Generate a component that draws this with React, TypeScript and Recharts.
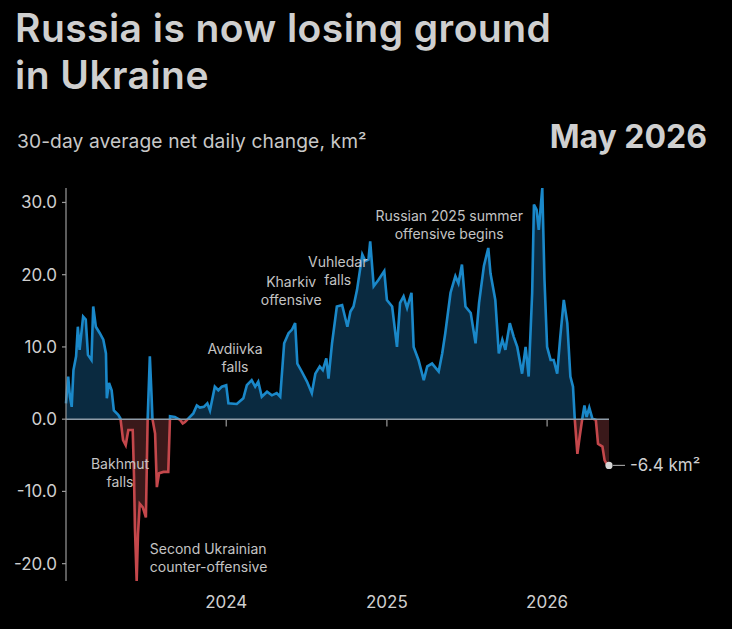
import React from 'react';
import { AreaChart, Area, XAxis, YAxis, ReferenceLine, ReferenceDot } from 'recharts';

const dates = [
  '2023-01-01','2023-01-06','2023-01-10','2023-01-14','2023-01-18','2023-01-24','2023-01-28','2023-02-01','2023-02-09','2023-02-15',
  '2023-02-20','2023-02-28','2023-03-04','2023-03-10','2023-03-19','2023-03-27','2023-04-02','2023-04-04','2023-04-09','2023-04-15',
  '2023-04-20','2023-04-30','2023-05-05','2023-05-11','2023-05-17','2023-05-23','2023-06-02','2023-06-05','2023-06-07','2023-06-11',
  '2023-06-14','2023-06-18','2023-06-25','2023-07-02','2023-07-06','2023-07-11','2023-07-15','2023-07-17','2023-07-23','2023-07-27',
  '2023-08-01','2023-08-11','2023-08-22','2023-08-26','2023-09-06','2023-09-18','2023-09-24','2023-09-29','2023-10-07','2023-10-18',
  '2023-10-26','2023-11-02','2023-11-11','2023-11-19','2023-11-25','2023-12-06','2023-12-14','2023-12-22','2024-01-01','2024-01-06',
  '2024-01-25','2024-02-09','2024-02-17','2024-02-28','2024-03-07','2024-03-14','2024-03-22','2024-04-03','2024-04-14','2024-04-25',
  '2024-05-03','2024-05-12','2024-05-22','2024-05-30','2024-06-06','2024-06-11','2024-06-21','2024-07-03','2024-07-14','2024-07-22',
  '2024-08-01','2024-08-08','2024-08-16','2024-08-21','2024-08-29','2024-09-09','2024-09-21','2024-10-03','2024-10-10','2024-10-17',
  '2024-10-25','2024-11-06','2024-11-13','2024-11-20','2024-11-24','2024-12-02','2024-12-13','2024-12-26','2025-01-01','2025-01-13',
  '2025-01-24','2025-01-31','2025-02-08','2025-02-16','2025-02-26','2025-03-03','2025-03-14','2025-03-26','2025-04-03','2025-04-14',
  '2025-04-29','2025-05-07','2025-05-14','2025-05-26','2025-06-06','2025-06-13','2025-06-21','2025-06-29','2025-07-11','2025-07-22',
  '2025-07-30','2025-08-10','2025-08-20','2025-08-25','2025-09-05','2025-09-13','2025-09-21','2025-09-28','2025-10-08','2025-10-17',
  '2025-10-25','2025-11-05','2025-11-13','2025-11-20','2025-11-28','2025-12-02','2025-12-08','2025-12-13','2025-12-21','2025-12-26',
  '2026-01-01','2026-01-09','2026-01-16','2026-01-24','2026-01-31','2026-02-08','2026-02-16','2026-02-23','2026-03-01','2026-03-05',
  '2026-03-11','2026-03-16','2026-03-22','2026-03-27','2026-04-01','2026-04-07','2026-04-14','2026-04-22','2026-04-27','2026-05-07',
  '2026-05-12','2026-05-17','2026-05-22',
];

const netChange = [
  2.2, 5.9, 3.1, 1.7, 6.8, 8.7, 12.8, 9.6, 14.2, 13.8,
  8.9, 8.2, 15.6, 12.8, 11.9, 11.0, 9.1, 2.9, 5.0, 4.0,
  1.2, 0.6, 0.1, -2.9, -3.6, -1.5, -1.5, -8.0, -15.0, -22.4,
  -15.9, -11.7, -12.2, -13.6, 0, 8.7, 3.1, 0, -2.0, -9.4,
  -7.5, -7.3, -7.3, 0.4, 0.3, -0.1, -0.6, -0.4, 0.1, 0.8,
  1.9, 1.6, 1.7, 2.2, 1.2, 4.5, 4.0, 4.5, 4.7, 2.2,
  2.1, 2.9, 4.7, 5.4, 4.5, 5.2, 3.1, 3.8, 3.3, 3.6,
  3.1, 10.5, 11.9, 12.4, 13.3, 7.7, 6.6, 5.2, 3.6, 6.3,
  7.3, 6.8, 8.4, 5.6, 10.5, 15.6, 15.8, 12.8, 14.9, 15.6,
  17.9, 22.8, 21.9, 22.1, 24.6, 18.4, 19.3, 20.5, 16.5, 15.6,
  10.0, 16.1, 17.0, 15.4, 17.5, 10.0, 8.2, 5.4, 7.3, 7.7,
  6.6, 9.1, 11.9, 17.5, 19.8, 18.8, 21.4, 15.6, 14.7, 10.5,
  16.1, 21.2, 23.7, 20.2, 16.5, 9.1, 11.0, 9.6, 13.3, 11.4,
  10.0, 6.3, 10.0, 5.9, 17.5, 29.7, 29.0, 26.2, 32.0, 19.3,
  10.0, 8.2, 8.2, 6.3, 11.4, 16.5, 13.3, 5.9, 4.5, 0,
  -4.8, -2.5, 0, 1.9, 0.3, 1.6, 0.1, -0.1, -3.4, -3.8,
  -5.7, -6.2, -6.4,
];

const yTicks = [-20, -10, 0, 10, 20, 30];
const yearTicks = ['2024-01-01', '2025-01-01', '2026-01-01'];

type Note = { date: string; value: number; lines: string[]; anchor: 'middle' | 'start' };
const notes: Note[] = [
  { date: '2023-05-04', value: -6.85, lines: ['Bakhmut', 'falls'], anchor: 'middle' },
  { date: '2023-07-11', value: -18.6, lines: ['Second Ukrainian', 'counter-offensive'], anchor: 'start' },
  { date: '2024-01-21', value: 9.0, lines: ['Avdiivka', 'falls'], anchor: 'middle' },
  { date: '2024-05-28', value: 18.3, lines: ['Kharkiv', 'offensive'], anchor: 'middle' },
  { date: '2024-09-11', value: 21.1, lines: ['Vuhledar', 'falls'], anchor: 'middle' },
  { date: '2025-05-23', value: 27.5, lines: ['Russian 2025 summer', 'offensive begins'], anchor: 'middle' },
];

const data = dates.map((d, i) => ({ t: Date.parse(d), v: netChange[i] }));
const maxV = Math.max(...netChange);
const minV = Math.min(...netChange);
const splitOffset = maxV / (maxV - minV);
const lastDate = dates[dates.length - 1];
const lastValue = netChange[netChange.length - 1];

const TEXT = '#cfcfcf';
const FONT = 'Inter, "Noto Sans", sans-serif';

function NoteLabel(props: any) {
  const { viewBox, lines, anchor } = props;
  const x = viewBox.x + (viewBox.width || 0) / 2;
  const y = viewBox.y + (viewBox.height || 0) / 2;
  return (
    <text x={x} y={y} textAnchor={anchor} fill="#c4c4c4" fontSize={14} fontFamily={FONT}>
      {lines.map((l: string, i: number) => (
        <tspan key={i} x={x} dy={i === 0 ? 0 : 18.3}>{l}</tspan>
      ))}
    </text>
  );
}

function EndLabel(props: any) {
  const { viewBox } = props;
  const cx = viewBox.x + (viewBox.width || 0) / 2;
  const cy = viewBox.y + (viewBox.height || 0) / 2;
  return (
    <g>
      <line x1={cx + 4} y1={cy} x2={cx + 16} y2={cy} stroke="#9a9a9a" strokeWidth={1.2} />
      <text x={cx + 21} y={cy + 6} fill={TEXT} fontSize={17} fontFamily={FONT}>-6.4 km²</text>
    </g>
  );
}

export default function App() {
  return (
    <div style={{ position: 'relative', width: 732, height: 629, background: '#000', overflow: 'hidden', fontFamily: FONT }}>
      <style>{`body{margin:0;background:#000}`}</style>
      <div style={{ position: 'absolute', left: 15, top: 4, fontSize: 39, lineHeight: '47px', fontWeight: 600, letterSpacing: 0.45, color: TEXT, whiteSpace: 'nowrap' }}>
        Russia is now losing ground<br />in Ukraine
      </div>
      <div style={{ position: 'absolute', left: 17, top: 132, fontSize: 19.2, lineHeight: 1, color: '#c8c8c8', letterSpacing: 0.1, whiteSpace: 'nowrap' }}>
        30-day average net daily change, km²
      </div>
      <div style={{ position: 'absolute', right: 25, top: 120.7, fontSize: 32, lineHeight: 1, fontWeight: 700, color: TEXT, whiteSpace: 'nowrap' }}>
        May 2026
      </div>
      <div style={{ position: 'absolute', left: 0, top: 0 }}>
        <AreaChart width={732} height={629} data={data} margin={{ top: 188, right: 123, bottom: 18, left: 0 }}>
          <defs>
            <linearGradient id="fillSplit" x1="0" y1="0" x2="0" y2="1">
              <stop offset={splitOffset} stopColor="#0a2a40" stopOpacity={1} />
              <stop offset={splitOffset} stopColor="#3a191a" stopOpacity={1} />
            </linearGradient>
            <linearGradient id="strokeSplit" x1="0" y1="0" x2="0" y2="1">
              <stop offset={splitOffset} stopColor="#1a88c9" stopOpacity={1} />
              <stop offset={splitOffset} stopColor="#c4474b" stopOpacity={1} />
            </linearGradient>
          </defs>
          <XAxis
            dataKey="t"
            type="number"
            domain={['dataMin', 'dataMax']}
            ticks={yearTicks.map((d) => Date.parse(d))}
            tickFormatter={(v: number) => String(new Date(v).getUTCFullYear())}
            axisLine={false}
            tickLine={false}
            tickMargin={9}
            height={30}
            tick={{ fill: TEXT, fontSize: 17, fontFamily: FONT }}
          />
          <YAxis
            type="number"
            domain={['dataMin', 'dataMax']}
            ticks={yTicks}
            tickFormatter={(v: number) => v.toFixed(1)}
            width={66}
            axisLine={{ stroke: '#9a9a9a', strokeWidth: 1.2 }}
            tickLine={{ stroke: '#9a9a9a', strokeWidth: 1.2 }}
            tickSize={4}
            tickMargin={5}
            tick={{ fill: TEXT, fontSize: 17, fontFamily: FONT }}
          />
          <Area
            type="linear"
            dataKey="v"
            stroke="url(#strokeSplit)"
            strokeWidth={2.6}
            fill="url(#fillSplit)"
            fillOpacity={1}
            isAnimationActive={false}
            dot={false}
            activeDot={false}
          />
          <ReferenceLine y={0} stroke="#8f9ca8" strokeWidth={1.4} />
          {yearTicks.map((d) => (
            <ReferenceLine
              key={d}
              segment={[{ x: Date.parse(d), y: 0 }, { x: Date.parse(d), y: -1 }]}
              stroke="#9a9a9a"
              strokeWidth={1.2}
            />
          ))}
          {notes.map((n) => (
            <ReferenceDot
              key={n.date}
              x={Date.parse(n.date)}
              y={n.value}
              r={0}
              fill="none"
              stroke="none"
              label={<NoteLabel lines={n.lines} anchor={n.anchor} />}
            />
          ))}
          <ReferenceDot
            x={Date.parse(lastDate)}
            y={lastValue}
            r={3.6}
            fill="#d6d6d6"
            stroke="none"
            label={<EndLabel />}
          />
        </AreaChart>
      </div>
    </div>
  );
}
